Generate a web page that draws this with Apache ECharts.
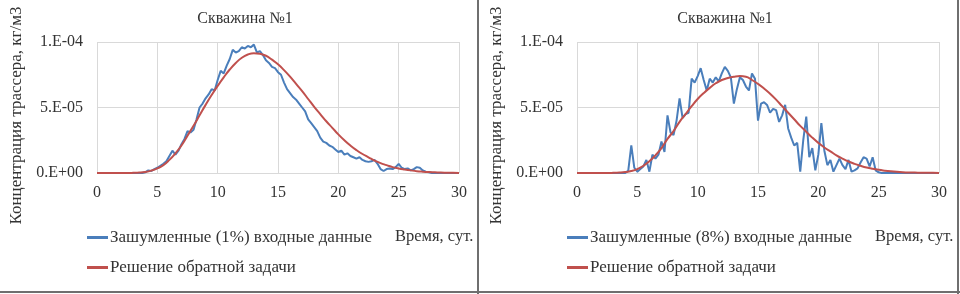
<!DOCTYPE html>
<html>
<head>
    <meta charset="utf-8">
    <script type="text/javascript" src="https://cdn.jsdelivr.net/npm/echarts@6/dist/echarts.min.js"></script>
    <title>Скважина №1</title>
</head>
<body style="margin:0;background:#fff;">
    <div id="container" style="width:960px;height:294px;"></div>
    <script type="text/javascript">
    // время, сут.: шаг для зашумленных данных и для решения
    var noisyStep = 0.25;
    var solStep = 0.5;

    // единицы 1e-5 кг/м3
    // Зашумленные (1%) входные данные, от 0 до 30 сут. с шагом 0.25
    var noisy1 = [
        0, 0, 0, 0,  0, 0, 0, 0,  0, 0, 0, 0,  0, 0, 0, 0,       // 0..3.75
        0.05, 0.2, 0.15, 0.3,     // 4
        0.4, 0.55, 0.7, 0.9,      // 5
        1.3, 1.7, 1.4, 1.7,       // 6
        2.2, 2.6, 3.2, 3.1,       // 7
        3.3, 4.1, 5.0, 5.3,       // 8
        5.7, 6.0, 6.4, 6.3,       // 9
        7.1, 7.8, 7.6, 8.2,       // 10
        8.7, 9.4, 9.2, 9.3,       // 11
        9.6, 9.5, 9.7, 9.6,       // 12
        9.8, 9.2, 9.3, 9.0,       // 13
        8.6, 8.4, 8.1, 8.0,       // 14
        7.7, 7.5, 6.9, 6.4,       // 15
        6.1, 5.8, 5.6, 5.3,       // 16
        5.0, 4.7, 4.1, 3.8,       // 17
        3.5, 3.2, 2.7, 2.4,       // 18
        2.3, 2.1, 2.0, 1.8,       // 19
        1.6, 1.7, 1.4, 1.5,       // 20
        1.3, 1.2, 1.1, 1.2,       // 21
        1.0, 0.9, 0.85, 0.9,      // 22
        1.0, 0.7, 0.3, 0.15,      // 23
        0.3, 0.35, 0.3, 0.45,     // 24
        0.7, 0.4, 0.3, 0.35,      // 25
        0.2, 0.3, 0.45, 0.4,      // 26
        0.2, 0.1, 0.05, 0,        // 27
        0, 0, 0, 0,  0, 0, 0, 0,  0                              // 28..30
    ];

    // Зашумленные (8%) входные данные
    var noisy8 = [
        0, 0, 0, 0,  0, 0, 0, 0,  0, 0, 0, 0,  0, 0, 0, 0,       // 0..3.75
        0, 0.2, 2.1, 0.4,         // 4
        0.1, 0.3, 0.5, 1.0,       // 5
        0.1, 1.4, 1.1, 1.4,       // 6
        2.4, 1.6, 4.4, 3.1,       // 7
        2.9, 4.0, 5.7, 4.2,       // 8
        4.5, 4.6, 7.2, 6.9,       // 9
        7.4, 8.0, 7.1, 6.3,       // 10
        7.2, 6.9, 7.3, 7.0,       // 11
        7.6, 8.1, 7.8, 7.3,       // 12
        5.3, 6.4, 7.3, 7.1,       // 13
        6.6, 6.3, 7.6, 7.2,       // 14
        4.0, 5.3, 5.4, 5.2,       // 15
        4.6, 4.9, 4.8, 3.9,       // 16
        4.4, 5.2, 3.4, 2.7,       // 17
        2.1, 2.3, 0.1, 2.5,       // 18
        4.3, 1.2, 1.9, 0.2,       // 19
        1.4, 3.8, 1.7, 0.6,       // 20
        1.0, 0.1, 0.6, 1.1,       // 21
        0.6, 0.3, 1.0, 0.1,       // 22
        0.2, 0.35, 0.8, 1.2,      // 23
        1.1, 0.5, 1.2, 0.2,       // 24
        0.05, 0, 0, 0,            // 25
        0, 0, 0, 0,  0, 0, 0, 0,  0, 0, 0, 0,  0, 0, 0, 0,  0   // 26..30
    ];

    // Решение обратной задачи, шаг 0.5 сут.
    var solution1 = [
        0, 0, 0, 0, 0, 0, 0.01, 0.03, 0.08, 0.18,
        0.35, 0.6, 1.0, 1.5, 2.1, 2.85, 3.6, 4.4, 5.2, 5.95,
        6.65, 7.3, 7.9, 8.4, 8.8, 9.05, 9.15, 9.1, 8.95, 8.65,
        8.3, 7.85, 7.35, 6.8, 6.25, 5.65, 5.05, 4.5, 3.95, 3.45,
        2.95, 2.5, 2.1, 1.75, 1.45, 1.2, 0.95, 0.75, 0.6, 0.45,
        0.35, 0.27, 0.2, 0.14, 0.1, 0.07, 0.05, 0.03, 0.02, 0.01, 0
    ];
    var solution8 = [
        0, 0, 0, 0, 0, 0, 0.01, 0.03, 0.07, 0.15,
        0.3, 0.55, 0.9, 1.35, 1.9, 2.6, 3.2, 3.9, 4.5, 5.1,
        5.65, 6.1, 6.5, 6.85, 7.1, 7.25, 7.35, 7.4, 7.35, 7.1,
        6.8, 6.45, 6.05, 5.6, 5.1, 4.6, 4.1, 3.6, 3.15, 2.7,
        2.3, 1.95, 1.65, 1.35, 1.1, 0.88, 0.7, 0.55, 0.42, 0.32,
        0.24, 0.18, 0.13, 0.09, 0.06, 0.04, 0.03, 0.02, 0.01, 0.01, 0
    ];

    var yTickLabels = { 0: '0.E+00', 5: '5.E-05', 10: '1.E-04' };

    var titleText = 'Скважина №1';
    var yName = 'Концентрация трассера, кг/м3';
    var xName = 'Время, сут.';
    var noisyNames = ['Зашумленные (1%) входные данные', 'Зашумленные (8%) входные данные'];
    var solName = 'Решение обратной задачи';

    function pairs(values, step) {
        return values.map(function (v, i) { return [i * step, v]; });
    }

    var font = 'Liberation Serif';
    var textColor = '#333333';
    var blue = '#4a7ebb';
    var red = '#c0504d';

    var myChart = echarts.init(document.getElementById('container'));

    var panelX = [0, 480];
    var grids = [], xAxes = [], yAxes = [], titles = [], legends = [], series = [], graphics = [];

    [0, 1].forEach(function (k) {
        var ox = panelX[k];
        grids.push({ left: ox + 97, width: 362, top: 42, height: 131 });
        xAxes.push({
            type: 'value', gridIndex: k, min: 0, max: 30, interval: 5,
            axisLine: { show: false }, axisTick: { show: false },
            axisLabel: { color: textColor, fontFamily: font, fontSize: 16, margin: 12 },
            splitLine: { show: true, lineStyle: { color: '#d9d9d9', width: 1 } }
        });
        yAxes.push({
            type: 'value', gridIndex: k, min: 0, max: 10, interval: 5,
            name: yName, nameLocation: 'middle', nameGap: 72,
            nameTextStyle: { color: textColor, fontFamily: font, fontSize: 17, padding: [0, 16, 0, 0] },
            axisLine: { show: false }, axisTick: { show: false },
            axisLabel: {
                color: textColor, fontFamily: font, fontSize: 16, margin: 14,
                formatter: function (v) { return yTickLabels[v]; }
            },
            splitLine: { show: true, lineStyle: { color: '#d9d9d9', width: 1 } }
        });
        titles.push({
            text: titleText, left: ox + 240, top: 6, textAlign: 'center',
            textStyle: { color: textColor, fontFamily: font, fontSize: 16, fontWeight: 'normal' }
        });
        legends.push({
            data: [noisyNames[k], solName],
            orient: 'vertical', left: ox + 87, top: 229, itemGap: 13, padding: 0,
            icon: 'rect', itemWidth: 21, itemHeight: 3,
            textStyle: { color: textColor, fontFamily: font, fontSize: 17, lineHeight: 17, padding: [0, 0, 0, -3] },
            selectedMode: false
        });
        series.push({
            name: noisyNames[k], type: 'line', xAxisIndex: k, yAxisIndex: k,
            data: pairs(k === 0 ? noisy1 : noisy8, noisyStep),
            showSymbol: false, lineStyle: { color: blue, width: 2 }, itemStyle: { color: blue },
            z: 2
        });
        series.push({
            name: solName, type: 'line', xAxisIndex: k, yAxisIndex: k,
            data: pairs(k === 0 ? solution1 : solution8, solStep), smooth: true,
            showSymbol: false, lineStyle: { color: red, width: 2 }, itemStyle: { color: red },
            z: 3
        });
        graphics.push({
            type: 'text', left: ox + 395, top: 228,
            style: { text: xName, fill: textColor, font: '16.5px "Liberation Serif"' }
        });
    });

    // рамки панелей
    graphics.push({ type: 'rect', shape: { x: 477, y: 0, width: 2, height: 294 }, style: { fill: '#6f6f6f' } });
    graphics.push({ type: 'rect', shape: { x: 957, y: 0, width: 2, height: 294 }, style: { fill: '#6f6f6f' } });
    graphics.push({ type: 'rect', shape: { x: 0, y: 291, width: 960, height: 2 }, style: { fill: '#6f6f6f' } });

    var option = {
        animation: false,
        title: titles,
        grid: grids,
        xAxis: xAxes,
        yAxis: yAxes,
        legend: legends,
        series: series,
        graphic: graphics
    };

    myChart.setOption(option);
    </script>
</body>
</html>
